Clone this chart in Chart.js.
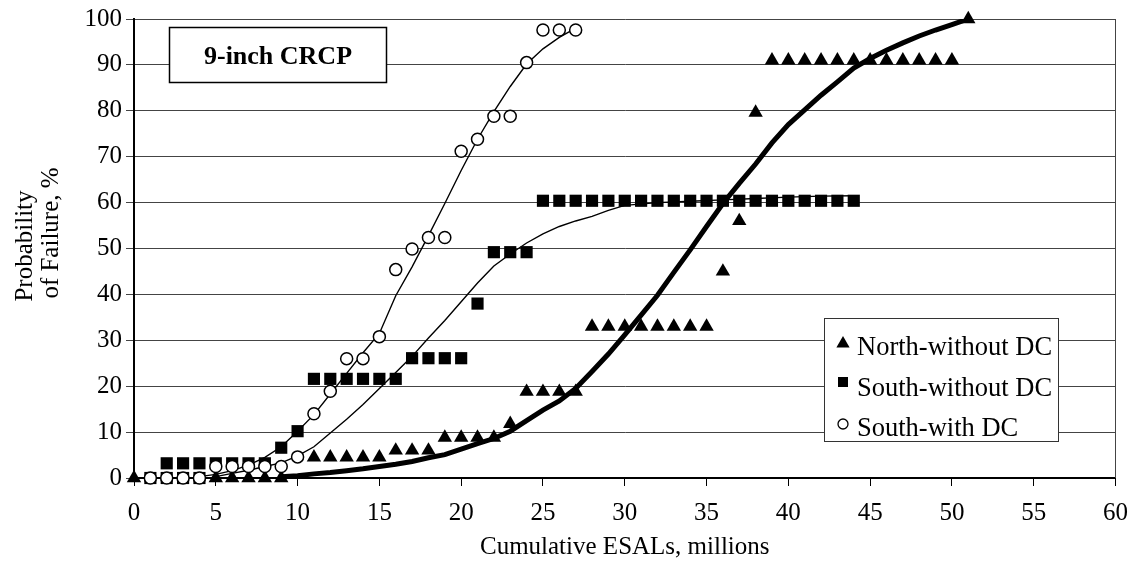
<!DOCTYPE html>
<html><head><meta charset="utf-8">
<script src="https://cdn.jsdelivr.net/npm/chart.js@4.4.1/dist/chart.umd.min.js"></script>
<style>html,body{margin:0;padding:0;background:#fff}canvas{display:block}</style>
</head><body>
<canvas id="c" width="1140" height="563"></canvas>
<script>
const FONT = '"Liberation Serif","Times New Roman",serif';

// ---- tick labels ----
const xTicks = [0, 5, 10, 15, 20, 25, 30, 35, 40, 45, 50, 55, 60];
const yTicks = [0, 10, 20, 30, 40, 50, 60, 70, 80, 90, 100];

// ---- texts ----
const seriesNames = ['North-without DC', 'South-without DC', 'South-with DC'];
const chartTitle = '9-inch CRCP';
const xTitle = 'Cumulative ESALs, millions';
const yTitleLines = ['Probability', 'of Failure, %'];

// ---- North-without DC (triangles) ----
const northX = [0, 5, 6, 7, 8, 9, 11, 12, 13, 14, 15, 16, 17, 18, 19, 20, 21, 22, 23, 24, 25, 26, 27,
  28, 29, 30, 31, 32, 33, 34, 35, 36, 37, 38, 39, 40, 41, 42, 43, 44, 45, 46, 47, 48, 49, 50, 51];
const northY = [0, 0, 0, 0, 0, 0, 4.5, 4.5, 4.5, 4.5, 4.5, 6, 6, 6, 8.8, 8.8, 8.8, 8.8, 11.8, 18.8, 18.8, 18.8, 18.8,
  33, 33, 33, 33, 33, 33, 33, 33, 45, 56, 79.6, 91, 91, 91, 91, 91, 91, 91, 91, 91, 91, 91, 91, 100];

// ---- South-without DC (squares) ----
const southNoX = [1, 2, 3, 4, 2, 3, 4, 5, 6, 7, 8, 9, 10, 11, 12, 13, 14, 15, 16, 17, 18, 19, 20, 21, 22, 23, 24,
  25, 26, 27, 28, 29, 30, 31, 32, 33, 34, 35, 36, 37, 38, 39, 40, 41, 42, 43, 44];
const southNoY = [0, 0, 0, 0, 3.2, 3.2, 3.2, 3.2, 3.2, 3.2, 3.2, 6.6, 10.2, 21.6, 21.6, 21.6, 21.6, 21.6, 21.6,
  26.1, 26.1, 26.1, 26.1, 38, 49.2, 49.2, 49.2,
  60.4, 60.4, 60.4, 60.4, 60.4, 60.4, 60.4, 60.4, 60.4, 60.4, 60.4, 60.4, 60.4, 60.4, 60.4, 60.4, 60.4, 60.4, 60.4, 60.4];

// ---- South-with DC (circles) ----
const southDcX = [1, 2, 3, 4, 5, 6, 7, 8, 9, 10, 11, 12, 13, 14, 15, 16, 17, 18, 19, 20, 21, 22, 23, 24, 25, 26, 27];
const southDcY = [0, 0, 0, 0, 2.5, 2.5, 2.5, 2.5, 2.5, 4.6, 14, 18.9, 26, 26, 30.8, 45.4, 49.9, 52.4, 52.4,
  71.2, 73.8, 78.8, 78.8, 90.5, 97.6, 97.6, 97.6];

// ---- fitted curves ----
const fitNorthX = [9, 10, 11, 12, 13, 14, 15, 16, 17, 18, 19, 20, 21, 22, 23, 24, 25, 26, 27, 28, 29, 30,
  31, 32, 33, 34, 35, 36, 37, 38, 39, 40, 41, 42, 43, 44, 45, 46, 47, 48, 49, 50, 51];
const fitNorthY = [0.3, 0.5, 0.9, 1.2, 1.6, 2.0, 2.5, 3.0, 3.6, 4.4, 5.1, 6.3, 7.5, 8.6, 10.2, 12.5, 14.8, 16.8, 19.5, 23.2, 27, 31.2,
  35.5, 39.8, 44.8, 49.7, 54.8, 59.8, 64.2, 68.4, 73, 77, 80.2, 83.4, 86.3, 89.3, 91.4, 93.2, 94.8, 96.3, 97.6, 98.8, 100];

const fitSouthNoX = [5, 6, 7, 8, 9, 10, 11, 12, 13, 14, 15, 16, 17, 18, 19, 20, 21, 22, 23, 24, 25, 26, 27, 28, 29, 30,
  32, 34, 36, 38, 40, 42, 44];
const fitSouthNoY = [0.3, 1.0, 1.7, 2.5, 3.3, 4.8, 6.8, 9.8, 12.8, 16, 19.5, 23, 26.5, 30.5, 34.3, 38.4, 42.5, 46.2, 48.8, 51.2,
  53.2, 54.8, 56, 57, 58.3, 59.4, 60, 60.3, 60.6, 60.9, 61.2, 61.4, 61.5];

const fitSouthDcX = [4, 5, 6, 7, 8, 9, 10, 11, 12, 13, 14, 15, 16, 17, 18, 19, 20, 21, 22, 23, 24, 25, 26, 27];
const fitSouthDcY = [0.3, 0.8, 1.6, 2.8, 4.5, 6.8, 10.2, 13.8, 18.3, 22.8, 27.3, 31.5, 39.7, 46, 52.8, 59.8, 67, 73.8,
  79.8, 85.3, 90.2, 93.5, 96, 98];

function pts(xs, ys) { return xs.map((x, i) => ({ x: x, y: ys[i] })); }

function drawMarker(ctx, style, x, y, s) {
  ctx.save();
  ctx.fillStyle = '#000';
  ctx.strokeStyle = '#000';
  ctx.beginPath();
  if (style === 'triangle') {
    ctx.moveTo(x, y - s * 0.5);
    ctx.lineTo(x + s * 0.55, y + s * 0.45);
    ctx.lineTo(x - s * 0.55, y + s * 0.45);
    ctx.closePath();
    ctx.fill();
  } else if (style === 'rect') {
    ctx.rect(x - s / 2, y - s / 2, s, s);
    ctx.fill();
  } else {
    ctx.arc(x, y, s / 2, 0, Math.PI * 2);
    ctx.fillStyle = '#fff';
    ctx.fill();
    ctx.lineWidth = 1.3;
    ctx.stroke();
  }
  ctx.restore();
}

const decorPlugin = {
  id: 'decor',
  beforeDatasetsDraw(chart) {
    const { ctx, chartArea } = chart;
    ctx.save();
    ctx.strokeStyle = '#444';
    ctx.lineWidth = 1;
    ctx.beginPath();
    ctx.moveTo(Math.round(chartArea.right) - 0.5, chartArea.top);
    ctx.lineTo(Math.round(chartArea.right) - 0.5, chartArea.bottom);
    ctx.stroke();
    ctx.restore();
  },
  afterDraw(chart) {
    const { ctx } = chart;
    ctx.save();
    // y axis title
    ctx.fillStyle = '#000';
    ctx.font = '25px ' + FONT;
    ctx.textAlign = 'center';
    ctx.textBaseline = 'alphabetic';
    const yPos = [[32, 246], [58, 233]];
    yTitleLines.forEach((t, i) => {
      ctx.save();
      ctx.translate(yPos[i][0], yPos[i][1]);
      ctx.rotate(-Math.PI / 2);
      ctx.fillText(t, 0, 0);
      ctx.restore();
    });
    // title box
    ctx.fillStyle = '#fff';
    ctx.fillRect(169, 27, 218, 56);
    ctx.strokeStyle = '#000';
    ctx.lineWidth = 1.5;
    ctx.strokeRect(169.5, 27.5, 217, 55);
    ctx.fillStyle = '#000';
    ctx.font = 'bold 26px ' + FONT;
    ctx.textAlign = 'center';
    ctx.textBaseline = 'alphabetic';
    ctx.fillText(chartTitle, 278, 64);
    // legend
    ctx.fillStyle = '#fff';
    ctx.fillRect(824, 318, 235, 124);
    ctx.strokeStyle = '#333';
    ctx.lineWidth = 1;
    ctx.strokeRect(824.5, 318.5, 234, 123);
    const styles = ['triangle', 'rect', 'circle'];
    const rowsY = [355, 396, 436];
    const markY = [342, 382, 424];
    const sizes = [12, 10, 10];
    ctx.font = '26.5px ' + FONT;
    ctx.textAlign = 'left';
    seriesNames.forEach((n, i) => {
      drawMarker(ctx, styles[i], 843, markY[i], sizes[i]);
      ctx.fillStyle = '#000';
      ctx.fillText(n, 857, rowsY[i]);
    });
    ctx.restore();
  }
};

new Chart(document.getElementById('c'), {
  type: 'scatter',
  data: {
    datasets: [
      { label: seriesNames[2], data: pts(southDcX, southDcY), pointStyle: 'circle', pointRadius: 6,
        pointBackgroundColor: '#fff', pointBorderColor: '#000', pointBorderWidth: 1.5, showLine: false, clip: false },
      { label: seriesNames[1], data: pts(southNoX, southNoY), pointStyle: 'rect', pointRadius: 8.6,
        pointBackgroundColor: '#000', pointBorderColor: '#000', pointBorderWidth: 0, showLine: false, clip: false },
      { label: seriesNames[0], data: pts(northX, northY), pointStyle: 'triangle', pointRadius: 8.3,
        pointBackgroundColor: '#000', pointBorderColor: '#000', pointBorderWidth: 0, showLine: false, clip: false },
      { label: 'fit south with DC', data: pts(fitSouthDcX, fitSouthDcY), showLine: true, pointRadius: 0,
        borderColor: '#000', borderWidth: 1.4, tension: 0 },
      { label: 'fit south without DC', data: pts(fitSouthNoX, fitSouthNoY), showLine: true, pointRadius: 0,
        borderColor: '#000', borderWidth: 1.4, tension: 0 },
      { label: 'fit north without DC', data: pts(fitNorthX, fitNorthY), showLine: true, pointRadius: 0,
        borderColor: '#000', borderWidth: 5, tension: 0 }
    ]
  },
  options: {
    responsive: false,
    animation: false,
    devicePixelRatio: 1,
    layout: { padding: { top: 13, right: 24, left: 0, bottom: 0 } },
    plugins: { legend: { display: false }, tooltip: { enabled: false } },
    scales: {
      x: {
        type: 'linear', min: 0, max: 60,
        afterBuildTicks: s => { s.ticks = xTicks.map(v => ({ value: v })); },
        afterFit: s => { s.height = 85; },
        ticks: { color: '#000', font: { family: FONT, size: 25 }, padding: 12, maxRotation: 0 },
        grid: { drawOnChartArea: false, drawTicks: true, tickLength: 8, color: '#000', lineWidth: 1 },
        border: { display: true, color: '#000', width: 2 },
        title: { display: true, text: xTitle, color: '#000', font: { family: FONT, size: 25 }, padding: { top: 0, bottom: 1 } }
      },
      y: {
        type: 'linear', min: 0, max: 100,
        afterBuildTicks: s => { s.ticks = yTicks.map(v => ({ value: v })); },
        afterFit: s => { s.width = 134; },
        ticks: { color: '#000', font: { family: FONT, size: 25 }, padding: 4 },
        grid: { drawTicks: true, tickLength: 8, color: '#444', lineWidth: 1 },
        border: { display: true, color: '#000', width: 2 }
      }
    }
  },
  plugins: [decorPlugin]
});
</script>
</body></html>
